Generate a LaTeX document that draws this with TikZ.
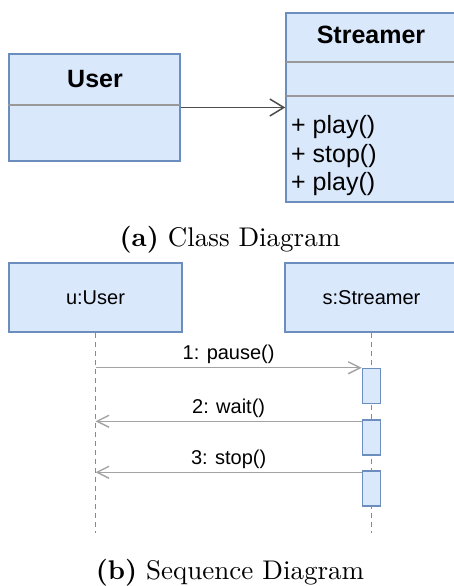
\documentclass[tikz,border=0pt]{standalone}
\usepackage{fontspec}
\setmainfont{lmroman10-regular.otf}[BoldFont=lmroman10-bold.otf]
\newfontfamily\umlfont{Liberation Sans}
\usetikzlibrary{arrows.meta,positioning}
\definecolor{umlfill}{HTML}{DAE8FC}
\definecolor{umldraw}{HTML}{6C8EBF}
\definecolor{umlsplit}{HTML}{999999}
\definecolor{assocgray}{HTML}{4D4D4D}
\definecolor{msggray}{HTML}{A3A3A3}

\begin{document}
\begin{tikzpicture}[x=1pt,y=-1pt,
    cls/.style={rectangle,draw=umldraw,fill=umlfill,line width=1.5pt,
                minimum width=171pt,inner sep=0pt},
    clsname/.style={inner sep=0pt,font=\umlfont\bfseries\fontsize{25}{30}\selectfont},
    ops/.style={inner sep=0pt,align=left,font=\umlfont\fontsize{25}{28.5}\selectfont},
    divider/.style={draw=umlsplit,line width=2.2pt},
    assoc/.style={-{Straight Barb[length=14pt,width=17pt]},draw=assocgray,line width=1.5pt},
    lifebox/.style={rectangle,draw=umldraw,fill=umlfill,line width=1.5pt,
                    minimum width=173pt,minimum height=69pt,
                    font=\umlfont\fontsize{20}{24}\selectfont},
    lifeline/.style={draw=umldraw,line width=1.4pt,dash pattern=on 5pt off 4pt},
    act/.style={rectangle,draw=umldraw,fill=umlfill,line width=1.5pt,
                minimum width=18pt,minimum height=35pt,inner sep=0pt},
    msg/.style={-{Straight Barb[length=12pt,width=12pt]},draw=msggray,line width=1.4pt},
    msglbl/.style={above,inner sep=3pt,font=\umlfont\fontsize{20}{24}\selectfont},
    subcap/.style={inner sep=0pt,font=\fontsize{27}{32}\selectfont}
]
\useasboundingbox (0,0) rectangle (454,586);
\clip (0,0) rectangle (454,586);

% class diagram
\node[cls,minimum height=107pt] (user) at (94.5,107.5) {};
\node[clsname] (usertitle) at (95,79) {User};
\draw[divider] (8,105) -- (180,105);

\node[cls,minimum height=189pt] (streamer) at (371.5,107.5) {};
\node[clsname] (streamertitle) at (371,35) {Streamer};
\draw[divider] (286,62) -- (457,62);
\draw[divider] (286,96) -- (457,96);
\node[ops,anchor=west] (streamerops) at (291,156) {+ play()\\+ stop()\\+ play()};

\draw[assoc] (user) -- (streamer);

\node[subcap] (capa) at (230,240) {\textbf{(a)} Class Diagram};

% sequence diagram
\node[lifebox] (uuser) at (95.5,297.5) {u:User};
\node[lifebox] (sstreamer) at (371.5,297.5) {s:Streamer};
\coordinate (uend) at (95.5,533);
\coordinate (send) at (371.5,533);
\draw[lifeline] (uuser.south) -- (uend);
\draw[lifeline] (sstreamer.south) -- (send);

\node[act] (act1) at (371.5,386) {};
\node[act] (act2) at (371.5,437.5) {};
\node[act] (act3) at (371.5,488.5) {};

\draw[msg] (uuser |- act1.north) -- node[msglbl] (lbl1) {1: pause()} (act1.north west);
\draw[msg] ([yshift=-2pt]act2.north west) coordinate (m2) -- node[msglbl] (lbl2) {2: wait()} (uuser |- m2);
\draw[msg] ([yshift=-2pt]act3.north west) coordinate (m3) -- node[msglbl] (lbl3) {3: stop()} (uuser |- m3);

\node[subcap] (capb) at (230,573) {\textbf{(b)} Sequence Diagram};
\end{tikzpicture}
\end{document}
